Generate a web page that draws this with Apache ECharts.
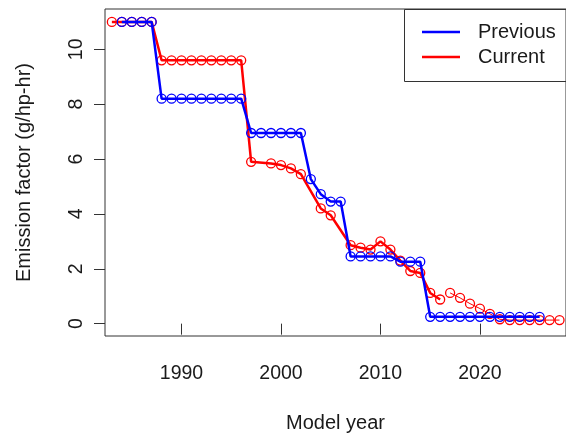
<!DOCTYPE html>
<html>
<head>
<meta charset="utf-8">
<script src="https://cdn.jsdelivr.net/npm/echarts@6/dist/echarts.min.js"></script>
<style>
  html, body { margin: 0; padding: 0; background: #fff; }
  #chart { width: 566px; height: 439px; }
</style>
</head>
<body>
<div id="chart"></div>
<script>
// Emission factors by model year (g/hp-hr)
const previousYears = [1984, 1985, 1986, 1987,
  1988, 1989, 1990, 1991, 1992, 1993, 1994, 1995, 1996,
  1997, 1998, 1999, 2000, 2001, 2002,
  2003, 2004, 2005, 2006,
  2007, 2008, 2009, 2010, 2011,
  2012, 2013, 2014,
  2015, 2016, 2017, 2018, 2019, 2020, 2021, 2022, 2023, 2024, 2025, 2026];
const previousValues = [11.0, 11.0, 11.0, 11.0,
  8.2, 8.2, 8.2, 8.2, 8.2, 8.2, 8.2, 8.2, 8.2,
  6.95, 6.95, 6.95, 6.95, 6.95, 6.95,
  5.27, 4.72, 4.45, 4.45,
  2.45, 2.45, 2.45, 2.45, 2.45,
  2.26, 2.26, 2.26,
  0.25, 0.25, 0.25, 0.25, 0.25, 0.25, 0.25, 0.25, 0.25, 0.25, 0.25, 0.25];

const currentYears = [1983, 1984, 1985, 1986, 1987,
  1988, 1989, 1990, 1991, 1992, 1993, 1994, 1995, 1996,
  1997, 1999, 2000, 2001, 2002,
  2004, 2005,
  2007, 2008, 2009, 2010, 2011, 2012, 2013, 2014,
  2015, 2016];
const currentValues = [11.0, 11.0, 11.0, 11.0, 11.0,
  9.6, 9.6, 9.6, 9.6, 9.6, 9.6, 9.6, 9.6, 9.6,
  5.9, 5.84, 5.78, 5.66, 5.45,
  4.2, 3.95,
  2.86, 2.77, 2.7, 3.0, 2.7, 2.3, 1.92, 1.85,
  1.12, 0.88];

// later model years, drawn as a separate run of points
const currentLateYears = [2017, 2018, 2019, 2020, 2021, 2022, 2023, 2024, 2025, 2026, 2027, 2028];
const currentLateValues = [1.12, 0.94, 0.73, 0.55, 0.36, 0.16, 0.13, 0.13, 0.13, 0.13, 0.13, 0.13];

const xTicks = [1990, 2000, 2010, 2020];
const yTicks = [0, 2, 4, 6, 8, 10];

const pairs = (xs, ys) => xs.map((x, i) => [x, ys[i]]);

const BLUE = '#0000ff';
const RED = '#ff0000';
const INK = '#1a1a1a';
const FONT = 'Liberation Sans, Arial, sans-serif';

const markerStyle = (c) => ({
  color: 'rgba(0,0,0,0)',
  borderColor: c,
  borderWidth: 1.3
});

const chart = echarts.init(document.getElementById('chart'), null, { renderer: 'canvas' });

chart.setOption({
  animation: false,
  backgroundColor: '#fff',
  textStyle: { fontFamily: FONT },
  grid: {
    left: 105, top: 9, width: 462, height: 327,
    show: true, borderColor: '#333', borderWidth: 1,
    containLabel: false
  },
  xAxis: {
    type: 'value',
    min: 1982.31, max: 2028.65,
    name: 'Model year',
    nameLocation: 'middle',
    nameGap: 77,
    nameTextStyle: { fontSize: 20, color: INK, fontFamily: FONT },
    axisLine: { show: false },
    axisTick: { show: true, customValues: xTicks, length: 11, lineStyle: { color: '#333', width: 1 } },
    axisLabel: {
      customValues: xTicks, fontSize: 19.5, color: INK, margin: 28, fontFamily: FONT,
      formatter: (v) => String(v)
    },
    splitLine: { show: false }
  },
  yAxis: {
    type: 'value',
    min: -0.45, max: 11.47,
    name: 'Emission factor (g/hp-hr)',
    nameLocation: 'middle',
    nameRotate: 90,
    nameGap: 71,
    nameTextStyle: { fontSize: 20, color: INK, fontFamily: FONT },
    axisLine: { show: false },
    axisTick: { show: true, customValues: yTicks, length: 11, lineStyle: { color: '#333', width: 1 } },
    axisLabel: {
      customValues: yTicks, fontSize: 19.5, color: INK, margin: 18, rotate: 90, fontFamily: FONT,
      formatter: (v) => String(v)
    },
    splitLine: { show: false }
  },
  legend: {
    orient: 'vertical',
    left: 422, top: 22,
    padding: 0,
    itemGap: 5,
    itemWidth: 38, itemHeight: 2.5,
    icon: 'rect',
    textStyle: { fontSize: 20, color: INK, fontFamily: FONT, padding: [0, 0, 0, 13] },
    data: [
      { name: 'Previous', itemStyle: { color: BLUE, borderWidth: 0 } },
      { name: 'Current', itemStyle: { color: RED, borderWidth: 0 } }
    ]
  },
  graphic: [{
    type: 'rect',
    shape: { x: 404.5, y: 9.5, width: 170, height: 72 },
    style: { fill: 'none', stroke: '#333', lineWidth: 1 },
    z: 100
  }],
  series: [
    {
      name: 'Current', type: 'line',
      data: pairs(currentYears, currentValues),
      symbol: 'circle', symbolSize: 9, showAllSymbol: true,
      lineStyle: { color: RED, width: 2.5 },
      itemStyle: markerStyle(RED),
      z: 2
    },
    {
      name: 'Current', type: 'line',
      data: pairs(currentLateYears, currentLateValues),
      symbol: 'circle', symbolSize: 9, showAllSymbol: true,
      lineStyle: { color: RED, width: 1 },
      itemStyle: markerStyle(RED),
      z: 2
    },
    {
      name: 'Previous', type: 'line',
      data: pairs(previousYears, previousValues),
      symbol: 'circle', symbolSize: 9, showAllSymbol: true,
      lineStyle: { color: BLUE, width: 2.5 },
      itemStyle: markerStyle(BLUE),
      z: 3
    }
  ]
});
</script>
</body>
</html>
